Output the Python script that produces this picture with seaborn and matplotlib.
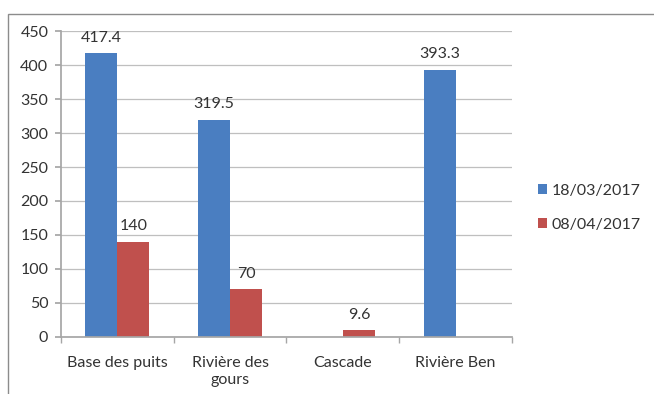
"""Bar chart: values per site for two sampling dates."""

import matplotlib
import matplotlib.pyplot as plt
import numpy as np
import pandas as pd
import seaborn as sns
from matplotlib.patches import Rectangle
from matplotlib.ticker import FixedLocator

matplotlib.use("Agg")

sites = ["Base des puits", "Rivière des\ngours", "Cascade", "Rivière Ben"]
dates = ["18/03/2017", "08/04/2017"]
values_0318 = [417.4, 319.5, np.nan, 393.3]
values_0804 = [140, 70, 9.6, np.nan]
colors = ["#4A7EC1", "#C0504D"]

FS = 11.5


def main():
    sns.set_theme(style="white")
    plt.rcParams["font.family"] = ["Lato", "DejaVu Sans"]

    df = pd.DataFrame(
        {
            "site": sites * 2,
            "date": [dates[0]] * len(sites) + [dates[1]] * len(sites),
            "value": values_0318 + values_0804,
        }
    ).dropna()

    fig = plt.figure(figsize=(6.54, 3.94), dpi=100)
    ax = fig.add_axes([0.093, 0.145, 0.69, 0.776])

    sns.barplot(
        data=df,
        x="site",
        y="value",
        hue="date",
        order=sites,
        hue_order=dates,
        palette=colors,
        width=0.57,
        gap=0,
        saturation=1,
        linewidth=0,
        ax=ax,
    )

    for cont in ax.containers:
        ax.bar_label(cont, fmt="%g", padding=6, fontsize=FS, color="#333333")

    ax.set_ylim(0, 450)
    ax.set_yticks(np.arange(0, 451, 50))
    ax.set_xlim(-0.5, len(sites) - 0.5)
    ax.yaxis.grid(True, color="#BFBFBF", linewidth=0.9)
    ax.set_axisbelow(True)
    ax.set_xlabel("")
    ax.set_ylabel("")

    for side in ["top", "right"]:
        ax.spines[side].set_visible(False)
    ax.spines["left"].set_color("#A6A6A6")
    ax.spines["bottom"].set_color("#A6A6A6")

    ax.tick_params(axis="y", labelsize=FS, colors="#333333", left=True, length=4,
                   color="#A6A6A6", pad=5)
    ax.tick_params(axis="x", labelsize=FS, colors="#333333", bottom=False, pad=8)
    ax.xaxis.set_minor_locator(FixedLocator(np.arange(-0.5, len(sites), 1.0)))
    ax.tick_params(axis="x", which="minor", bottom=True, length=4, color="#A6A6A6")

    handles, labels = ax.get_legend_handles_labels()
    ax.legend_.remove()
    fig.legend(
        handles,
        labels,
        loc="center left",
        bbox_to_anchor=(0.80, 0.472),
        frameon=False,
        fontsize=FS,
        handlelength=0.6,
        handleheight=0.6,
        handletextpad=0.3,
        labelspacing=1.25,
        labelcolor="#333333",
    )

    # outer chart border
    fig.patches.append(
        Rectangle((8 / 654, -0.1), 1.2, 0.1 + (394 - 14) / 394,
                  transform=fig.transFigure, fill=False,
                  edgecolor="#8C8C8C", linewidth=1.0)
    )

    fig.savefig("out.png", dpi=100)
    plt.close(fig)


if __name__ == "__main__":
    main()
